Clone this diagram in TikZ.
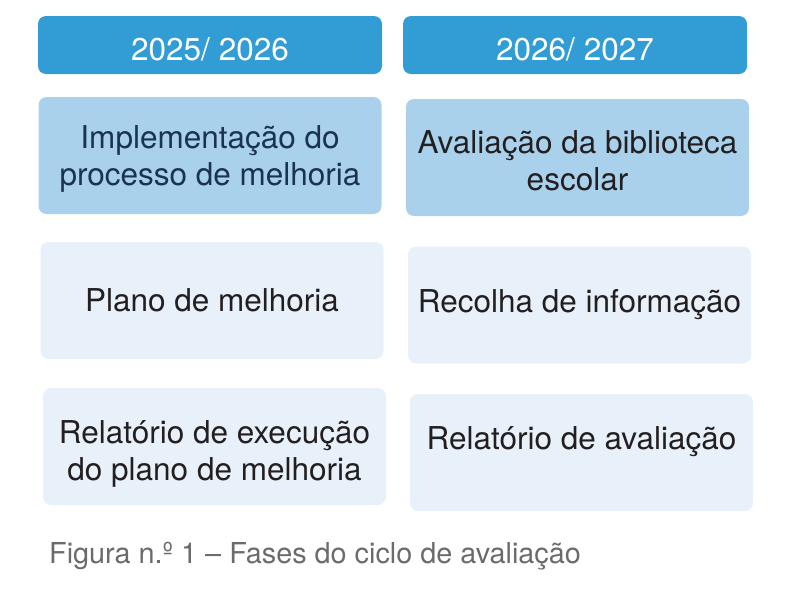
\documentclass[tikz,border=0pt]{standalone}
\usepackage{fontspec}
\setmainfont{TeX Gyre Heros}
\usepackage{xcolor}
\usetikzlibrary{positioning}
\definecolor{headblue}{RGB}{50,156,213}
\definecolor{midblue}{RGB}{170,209,236}
\definecolor{paleblue}{RGB}{232,241,250}
\definecolor{navytext}{RGB}{27,51,83}
\definecolor{inktext}{RGB}{35,31,32}
\definecolor{capgray}{RGB}{107,107,107}
\newcommand{\padtop}[1]{\rule{0pt}{#1}}

\begin{document}
\begin{tikzpicture}[
    x=1pt, y=-1pt,
    yearbox/.style={rectangle, rounded corners=8pt, fill=headblue, minimum width=344pt, minimum height=58pt, text=white, font=\fontsize{31.5}{37}\selectfont},
    phasebox/.style={rectangle, rounded corners=8pt, minimum width=343pt, minimum height=117pt, align=center, text=inktext, font=\fontsize{31.5}{37}\selectfont},
    keybox/.style={phasebox, fill=midblue},
    stepbox/.style={phasebox, fill=paleblue}
]
    \useasboundingbox (0,0) rectangle (809,589);

    % Year headers
    \node[yearbox] (yearA) at (210,45) {\padtop{31pt}2025/ 2026};
    \node[yearbox] (yearB) at (575,45) {\padtop{31pt}2026/ 2027};

    % Main phase of each year
    \node[keybox, text=navytext] (implA) at (210,155.5) {\padtop{29pt}Implementação do\\processo de melhoria};
    \node[keybox] (avalB) at (577.5,157.5) {\padtop{29pt}Avaliação da biblioteca\\escolar};

    % Following steps
    \node[stepbox] (planoA) at (212,300.5) {Plano de melhoria};
    \node[stepbox] (recolhaB) at (579.5,305) {Recolha de informação};
    \node[stepbox] (relA) at (214.5,446.5) {\padtop{37pt}Relatório de execução\\do plano de melhoria};
    \node[stepbox] (relB) at (581.5,452.5) {\padtop{30pt}Relatório de avaliação\\\mbox{}};

    % Caption
    \node[anchor=base west, inner sep=0pt, text=capgray, font=\fontsize{28.8}{32}\selectfont] (caption) at (49,563) {Figura n.º 1 – Fases do ciclo de avaliação};
\end{tikzpicture}
\end{document}
